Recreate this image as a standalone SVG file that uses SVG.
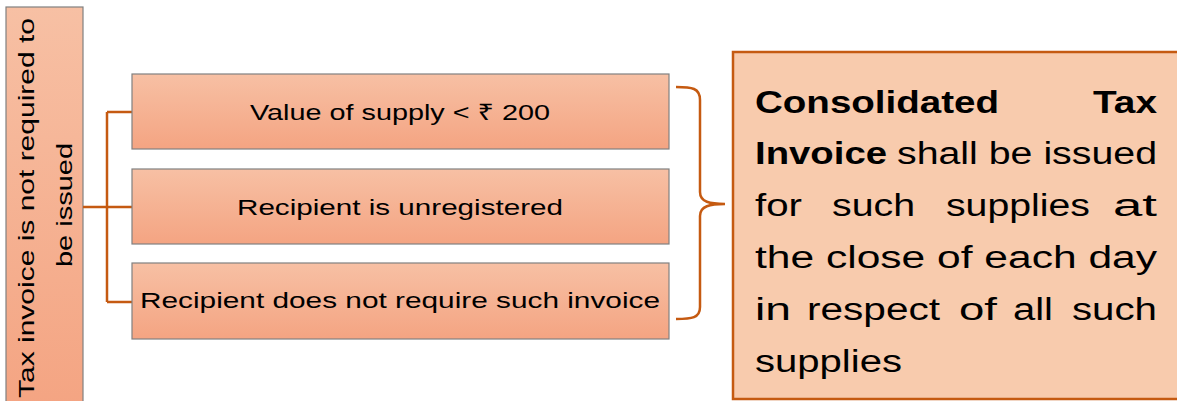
<svg xmlns="http://www.w3.org/2000/svg" width="1177" height="401" viewBox="0 0 1177 401">
<defs>
<linearGradient id="gv" x1="0" y1="0" x2="0" y2="1">
<stop offset="0" stop-color="#F7C0A4"/>
<stop offset="1" stop-color="#F4A482"/>
</linearGradient>
<style>
.box{fill:url(#gv);stroke:#808080;stroke-width:1.2}
.lbl{font-family:"Liberation Sans","Noto Sans","DejaVu Sans",sans-serif;font-size:22px;fill:#000}
.big{font-family:"Liberation Sans","Noto Sans",sans-serif;font-size:31px;fill:#000}
.b{font-weight:bold}
.conn{fill:none;stroke:#C55A11;stroke-width:2.5}
</style>
</defs>
<rect width="1177" height="401" fill="#fff"/>
<g id="left">
<rect class="box" x="6" y="7" width="77" height="402"/>
<text class="lbl" transform="translate(34,398) rotate(-90)" textLength="380" lengthAdjust="spacingAndGlyphs">Tax invoice is not required to</text>
<text class="lbl" transform="translate(72,267) rotate(-90)" textLength="124" lengthAdjust="spacingAndGlyphs">be issued</text>
</g>
<g id="connectors">
<path class="conn" d="M83,207 H107 M107,112 V302 M107,112 H132 M107,207 H132 M107,302 H132"/>
<path class="conn" stroke-width="3" d="M676,87 C692,87 700,88 700,100 L700,192 C700,202 710,204 725,204 C710,204 700,206 700,216 L700,307 C700,318 692,319 676,319"/>
</g>
<g id="n1">
<rect class="box" x="132" y="74" width="537" height="75"/>
<text class="lbl" x="400" y="120" text-anchor="middle" textLength="300" lengthAdjust="spacingAndGlyphs">Value of supply &lt; ₹ 200</text>
</g>
<g id="n2">
<rect class="box" x="132" y="169" width="537" height="75"/>
<text class="lbl" x="400" y="215" text-anchor="middle" textLength="326" lengthAdjust="spacingAndGlyphs">Recipient is unregistered</text>
</g>
<g id="n3">
<rect class="box" x="132" y="263" width="537" height="76"/>
<text class="lbl" x="400" y="308" text-anchor="middle" textLength="520" lengthAdjust="spacingAndGlyphs">Recipient does not require such invoice</text>
</g>
<g id="result">
<rect x="733" y="52" width="450" height="347" fill="#F8CBAD" stroke="#C55A11" stroke-width="2.5"/>
<text class="big b" x="755" y="113" textLength="244" lengthAdjust="spacingAndGlyphs">Consolidated</text>
<text class="big b" x="1093" y="113" textLength="64" lengthAdjust="spacingAndGlyphs">Tax</text>
<text class="big b" x="755" y="164" textLength="132" lengthAdjust="spacingAndGlyphs">Invoice</text>
<text class="big" x="897" y="164" textLength="260" lengthAdjust="spacingAndGlyphs">shall be issued</text>
<text class="big" x="755" y="216" textLength="47" lengthAdjust="spacingAndGlyphs">for</text>
<text class="big" x="832" y="216" textLength="83" lengthAdjust="spacingAndGlyphs">such</text>
<text class="big" x="946" y="216" textLength="144" lengthAdjust="spacingAndGlyphs">supplies</text>
<text class="big" x="1113" y="216" textLength="44" lengthAdjust="spacingAndGlyphs">at</text>
<text class="big" x="755" y="268" textLength="402" lengthAdjust="spacingAndGlyphs">the close of each day</text>
<text class="big" x="755" y="320" textLength="36" lengthAdjust="spacingAndGlyphs">in</text>
<text class="big" x="807" y="320" textLength="133" lengthAdjust="spacingAndGlyphs">respect</text>
<text class="big" x="959" y="320" textLength="38" lengthAdjust="spacingAndGlyphs">of</text>
<text class="big" x="1013" y="320" textLength="40" lengthAdjust="spacingAndGlyphs">all</text>
<text class="big" x="1072" y="320" textLength="85" lengthAdjust="spacingAndGlyphs">such</text>
<text class="big" x="755" y="372" textLength="147" lengthAdjust="spacingAndGlyphs">supplies</text>
</g>
</svg>
